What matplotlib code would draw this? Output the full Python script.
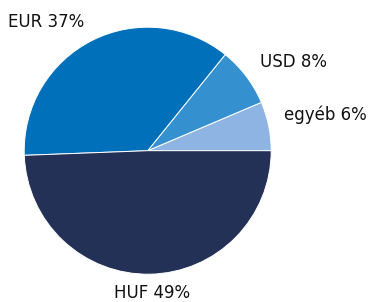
import matplotlib
matplotlib.use("Agg")
import matplotlib.pyplot as plt

# shares, labels as printed
names = ["egyéb", "USD", "EUR", "HUF"]
shares = [6.4, 7.8, 36.4, 49.4]
pct_labels = ["6%", "8%", "37%", "49%"]
colors = ["#8db4e2", "#3590d0", "#0070ba", "#243157"]

fig = plt.figure(figsize=(3.69, 3.02), dpi=100)
ax = fig.add_axes([0, 0, 1, 1])

ax.pie(shares, colors=colors, startangle=0, counterclock=True,
       center=(147.7, 151.3), radius=123.5,
       wedgeprops=dict(edgecolor="white", linewidth=0.7), frame=True)
ax.set_xlim(0, 369)
ax.set_ylim(0, 302)
ax.set_aspect("equal")
ax.axis("off")

label_pos = [(284, 187), (260, 240), (8, 280), (114, 9)]
for n, p, (x, y) in zip(names, pct_labels, label_pos):
    ax.text(x, y, n + " " + p, fontsize=12, color="#111111",
            ha="left", va="center", family="DejaVu Sans")

fig.savefig("out.png", dpi=100)
